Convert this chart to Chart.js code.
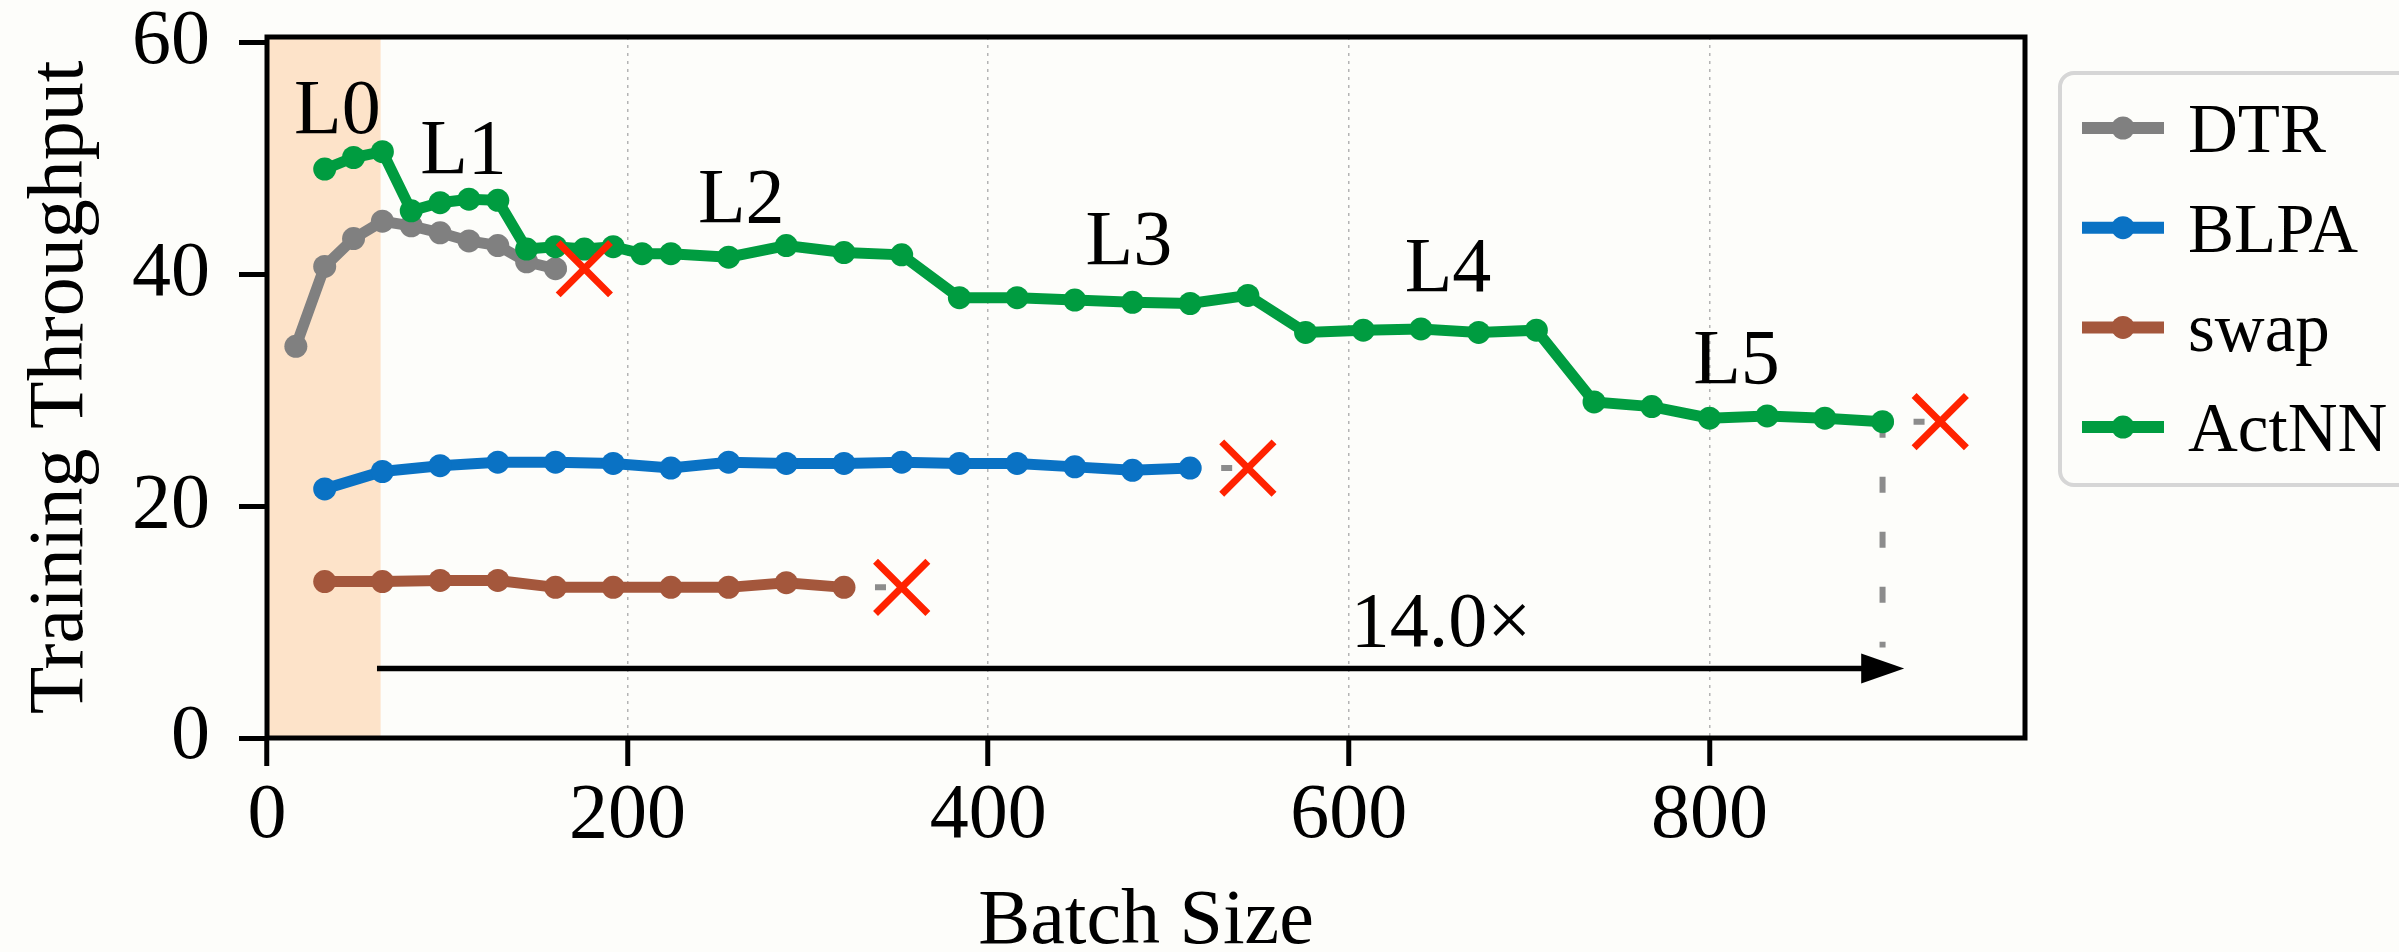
<!DOCTYPE html>
<html>
<head>
<meta charset="utf-8">
<script src="https://cdn.jsdelivr.net/npm/chart.js@4.4.1/dist/chart.umd.min.js"></script>
<style>
  html, body { margin: 0; padding: 0; background: #fdfdfa; }
  #wrap { width: 2399px; height: 952px; }
</style>
</head>
<body>
<div id="wrap"><canvas id="cvs" width="2399" height="952"></canvas></div>
<script>
// values (batch size -> training throughput)
const dtrBatch = [16, 32, 48, 64, 80, 96, 112, 128, 144, 160];
const dtrThroughput = [33.8, 40.7, 43.1, 44.6, 44.2, 43.6, 42.9, 42.5, 41.1, 40.5];

const blpaBatch = [32, 64, 96, 128, 160, 192, 224, 256, 288, 320, 352, 384, 416, 448, 480, 512];
const blpaThroughput = [21.5, 23.0, 23.5, 23.8, 23.8, 23.7, 23.3, 23.8, 23.7, 23.7, 23.8, 23.7, 23.7, 23.4, 23.1, 23.3];

const swapBatch = [32, 64, 96, 128, 160, 192, 224, 256, 288, 320];
const swapThroughput = [13.5, 13.5, 13.6, 13.6, 13.0, 13.0, 13.0, 13.0, 13.4, 13.0];

const actnnBatch = [32, 48, 64, 80, 96, 112, 128, 144, 160, 176, 192, 208, 224, 256, 288, 320, 352, 384, 416, 448, 480, 512, 544, 576, 608, 640, 672, 704, 736, 768, 800, 832, 864, 896];
const actnnThroughput = [49.1, 50.1, 50.6, 45.5, 46.2, 46.5, 46.4, 42.2, 42.4, 42.2, 42.4, 41.8, 41.8, 41.5, 42.5, 41.9, 41.7, 38.0, 38.0, 37.8, 37.6, 37.5, 38.2, 35.0, 35.2, 35.3, 35.0, 35.2, 29.0, 28.6, 27.6, 27.8, 27.6, 27.3];

// out of memory crosses, one per method
const oomBatch = [176, 544, 352, 928];
const oomThroughput = [40.5, 23.3, 13.0, 27.3];

const seriesNames = ['DTR', 'BLPA', 'swap', 'ActNN'];
const seriesColors = ['#808080', '#0a72c4', '#a4573c', '#009c40'];

const levelLabels = ['L0', 'L1', 'L2', 'L3', 'L4', 'L5'];
const levelBatch = [39, 109, 263, 478, 655, 815];
const levelThroughput = [52.2, 48.8, 44.5, 40.9, 38.6, 30.6];

const xTicks = [0, 200, 400, 600, 800];
const yTicks = [0, 20, 40, 60];

const shadeTo = 63;            // L0 region
const arrowFrom = 61, arrowTo = 908, arrowLevel = 6.0;
const speedupText = '14.0×', speedupBatch = 600, speedupLevel = 7.9;
const dropBatch = 896, dropFrom = 27.3, dropTo = 7.8;

const serif = "'Liberation Serif', 'Times New Roman', 'DejaVu Serif', serif";
const pts = (xs, ys) => xs.map((x, i) => ({ x: x, y: ys[i] }));

const batches = [dtrBatch, blpaBatch, swapBatch, actnnBatch];
const values = [dtrThroughput, blpaThroughput, swapThroughput, actnnThroughput];

const datasets = [];
batches.forEach((b, i) => {
    datasets.push({
        label: seriesNames[i], data: pts(b, values[i]), order: 4 - i,
        borderColor: seriesColors[i], backgroundColor: seriesColors[i], borderWidth: 11,
        pointRadius: 11.5, pointBorderWidth: 0, pointBackgroundColor: seriesColors[i], tension: 0
    });
    // dotted gray link from last run to the OOM cross
    const last = b.length - 1;
    datasets.push({
        label: '', data: [{ x: b[last], y: values[i][last] }, { x: oomBatch[i], y: oomThroughput[i] }], order: 10,
        borderColor: '#8c8c8c', borderWidth: 6, borderDash: [11, 20], pointRadius: 0
    });
});
datasets.push({
    label: '', data: [{ x: dropBatch, y: dropFrom }, { x: dropBatch, y: dropTo }], order: 10,
    borderColor: '#8c8c8c', borderWidth: 6, borderDash: [16, 39], pointRadius: 0
});
datasets.push({
    label: '', data: pts(oomBatch, oomThroughput), order: 0, showLine: false,
    pointStyle: 'crossRot', pointRadius: 37, pointBorderWidth: 7,
    borderColor: '#ff2200', backgroundColor: '#ff2200'
});

const decor = {
    id: 'decor',
    beforeDatasetsDraw(chart) {
        const { ctx, chartArea: a, scales: { x } } = chart;
        ctx.save();
        ctx.fillStyle = '#fde3c9';
        const x0 = x.getPixelForValue(0);
        ctx.fillRect(x0, a.top, x.getPixelForValue(shadeTo) - x0, a.bottom - a.top);
        ctx.restore();
    },
    afterDraw(chart) {
        const { ctx, chartArea: a, scales: { x, y } } = chart;
        ctx.save();
        // level labels
        ctx.fillStyle = '#000';
        ctx.font = '78px ' + serif;
        ctx.textAlign = 'center'; ctx.textBaseline = 'alphabetic';
        levelLabels.forEach((t, i) => ctx.fillText(t, x.getPixelForValue(levelBatch[i]), y.getPixelForValue(levelThroughput[i])));
        // speedup arrow
        const ay = y.getPixelForValue(arrowLevel);
        const tip = x.getPixelForValue(arrowTo);
        ctx.strokeStyle = '#000'; ctx.lineWidth = 5.5;
        ctx.beginPath(); ctx.moveTo(x.getPixelForValue(arrowFrom), ay); ctx.lineTo(tip - 40, ay); ctx.stroke();
        ctx.beginPath(); ctx.moveTo(tip, ay); ctx.lineTo(tip - 43, ay - 15); ctx.lineTo(tip - 43, ay + 15); ctx.closePath(); ctx.fill();
        ctx.textAlign = 'left';
        ctx.fillText(speedupText, x.getPixelForValue(speedupBatch) + 2, y.getPixelForValue(speedupLevel));
        // spines
        ctx.lineWidth = 5;
        ctx.strokeRect(a.left, a.top, a.right - a.left, a.bottom - a.top);
        // legend
        const lx = 2060, ly = 73;
        ctx.fillStyle = '#fdfdfa'; ctx.strokeStyle = '#d6d6d6'; ctx.lineWidth = 4;
        ctx.beginPath(); ctx.roundRect(lx, ly, 420, 412, 14); ctx.fill(); ctx.stroke();
        ctx.font = '69px ' + serif;
        seriesNames.forEach((n, i) => {
            const ry = ly + 55 + i * 99.7;
            ctx.strokeStyle = seriesColors[i]; ctx.lineWidth = 12;
            ctx.beginPath(); ctx.moveTo(lx + 22, ry); ctx.lineTo(lx + 104, ry); ctx.stroke();
            ctx.fillStyle = seriesColors[i];
            ctx.beginPath(); ctx.arc(lx + 63, ry, 11.5, 0, Math.PI * 2); ctx.fill();
            ctx.fillStyle = '#000';
            ctx.fillText(n, lx + 128, ry + 24);
        });
        ctx.restore();
    }
};

new Chart(document.getElementById('cvs').getContext('2d'), {
    type: 'line',
    data: { datasets: datasets },
    options: {
        responsive: false, animation: false, events: [],
        layout: { autoPadding: false, padding: { top: 37, right: 374, left: 0, bottom: 0 } },
        plugins: { legend: { display: false }, tooltip: { enabled: false } },
        scales: {
            x: {
                type: 'linear', min: 0, max: 975,
                afterBuildTicks: s => { s.ticks = xTicks.map(v => ({ value: v })); },
                afterFit: s => { s.height = 214; s.paddingLeft = 0; s.paddingRight = 0; },
                grid: {
                    color: c => c.tick && c.tick.value === 0 ? 'rgba(0,0,0,0)' : '#b4b4b4',
                    lineWidth: 1.5, tickLength: 28, tickColor: '#000', tickWidth: 5, tickBorderDash: []
                },
                border: { display: false, dash: [3, 5] },
                ticks: { color: '#000', font: { family: serif, size: 78, lineHeight: 1 }, padding: 12, maxRotation: 0, autoSkip: false },
                title: { display: true, text: 'Batch Size', color: '#000', font: { family: serif, size: 78, lineHeight: 0.75 }, padding: { top: 0, bottom: 0 } }
            },
            y: {
                type: 'linear', min: 0, max: 60.5,
                afterBuildTicks: s => { s.ticks = yTicks.map(v => ({ value: v })); },
                afterFit: s => { s.width = 267; s.paddingTop = 0; s.paddingBottom = 0; },
                grid: { drawOnChartArea: false, tickLength: 28, tickColor: '#000', tickWidth: 5, color: '#000' },
                border: { display: false },
                ticks: { color: '#000', font: { family: serif, size: 78, lineHeight: 1 }, padding: 29 },
                title: { display: true, text: 'Training Throughput', color: '#000', font: { family: serif, size: 78, lineHeight: 0.75 }, padding: { top: 32, bottom: 0 } }
            }
        }
    },
    plugins: [decor]
});
</script>
</body>
</html>
